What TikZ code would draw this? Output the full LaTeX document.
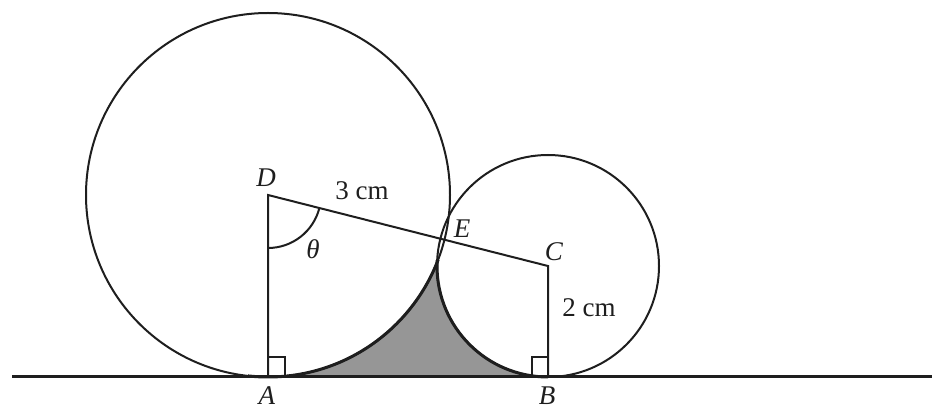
\documentclass[tikz,border=0pt]{standalone}
\usepackage{fontspec}
\setmainfont{Liberation Serif}
\usetikzlibrary{calc,intersections}
\definecolor{ink}{RGB}{30,30,30}
\definecolor{shadegray}{RGB}{150,150,150}
\begin{document}
\begin{tikzpicture}[x=1pt,y=-1pt,
  every node/.style={font=\fontsize{27}{32}\selectfont, text=ink, inner sep=0pt},
  geo/.style={draw=ink, line width=2pt},
  base/.style={draw=ink, line width=3pt},
  bold/.style={draw=ink, line width=3pt},
  sq/.style={draw=ink, line width=1.4pt}]
\useasboundingbox (0,0) rectangle (932,411);
% points
\coordinate (A) at (268,377);
\coordinate (B) at (548,377);
\coordinate (D) at (268,195);
\coordinate (C) at (548,266);
\coordinate (L) at (12,377);
\coordinate (R) at (932,377);
\coordinate (P) at (437.1,262.4);
% shaded region
\begin{scope}
  \clip (A) rectangle (B |- P);
  \fill[shadegray] (A) rectangle (B |- P);
  \fill[white] (D) circle[radius=182];
  \fill[white] (C) circle[radius=111];
\end{scope}
% circles
\draw[geo] (D) circle[radius=182];
\draw[geo] (C) circle[radius=111];
% thicker boundary of shaded region
\begin{scope}
  \clip ($(A)+(-20,2)$) rectangle ($(B |- P)+(0,-2)$);
  \draw[bold] (D) circle[radius=182];
  \draw[bold] (C) circle[radius=111];
\end{scope}
% ground line
\draw[base] (L) -- (R);
% segments
\draw[geo] (A) -- (D) -- (C) -- (B);
% right angle marks
\draw[sq] ($(A)+(0,-20)$) -- ($(A)+(17,-20)$) -- ($(A)+(17,0)$);
\draw[sq] ($(B)+(0,-20)$) -- ($(B)+(-16,-20)$) -- ($(B)+(-16,0)$);
% angle theta
\draw[geo] ($(D)+(0,53)$) arc[start angle=90, end angle=14.2, radius=53];
% labels
\node (lD) at (266,178) {\textit{D}};
\node (l3) at (362,191) {3 cm};
\node (lt) at (313,249) {\textit{θ}};
\node (lE) at (462,229) {\textit{E}};
\node (lC) at (554,252) {\textit{C}};
\node (l2) at (589,308) {2 cm};
\node (lA) at (267,396) {\textit{A}};
\node (lB) at (547,396) {\textit{B}};
\end{tikzpicture}
\end{document}
